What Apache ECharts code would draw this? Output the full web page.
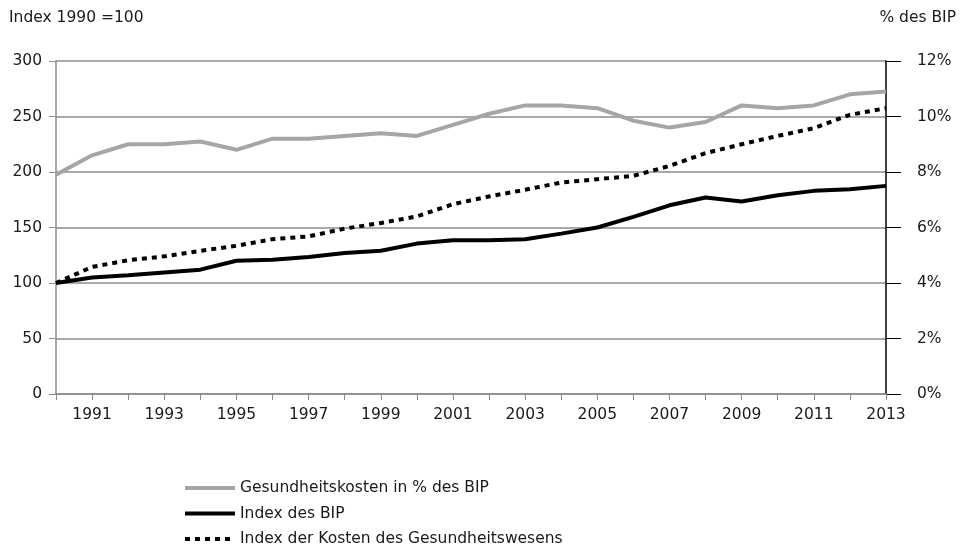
<!DOCTYPE html>
<html>
<head>
<meta charset="utf-8">
<script src="https://cdn.jsdelivr.net/npm/echarts@6/dist/echarts.min.js"></script>
<style>
  html, body { margin: 0; padding: 0; background: #fff; }
  #chart { width: 964px; height: 554px; }
</style>
</head>
<body>
<div id="chart"></div>
<script>
var years = ['1990', '1991', '1992', '1993', '1994', '1995', '1996', '1997', '1998', '1999', '2000', '2001',
  '2002', '2003', '2004', '2005', '2006', '2007', '2008', '2009', '2010', '2011', '2012', '2013'];

// Gesundheitskosten in % des BIP (rechte Achse)
var kostenProzent = [7.9, 8.6, 9.0, 9.0, 9.1, 8.8, 9.2, 9.2, 9.3, 9.4, 9.3, 9.7,
  10.1, 10.4, 10.4, 10.3, 9.85, 9.6, 9.8, 10.4, 10.3, 10.4, 10.8, 10.9];

// Index des BIP (1990 = 100)
var indexBip = [100, 105, 107, 109.5, 112, 120, 121, 123.5, 127, 129, 135.5, 138.5,
  138.5, 139.5, 144.5, 150, 159.5, 170, 177, 173.5, 179, 183, 184.5, 187.5];

// Index der Kosten des Gesundheitswesens (1990 = 100)
var indexKosten = [100, 114.5, 120.5, 124, 129, 133.5, 139.5, 142, 149, 154, 160, 171,
  178, 184, 190.5, 193.5, 196.5, 205.5, 217, 225, 232.5, 239.5, 251.5, 257.5];

var font = 'DejaVu Sans';
var fs = 15.5;
var txt = '#1a1a1a';

var chart = echarts.init(document.getElementById('chart'));

var option = {
  animation: false,
  backgroundColor: '#fff',
  textStyle: { fontFamily: font, color: txt },
  title: [
    { text: 'Index 1990 =100', left: 9, top: 10, padding: 0, textStyle: { fontFamily: font, fontSize: fs, fontWeight: 'normal', color: txt } },
    { text: '% des BIP', right: 8, top: 10, padding: 0, textStyle: { fontFamily: font, fontSize: fs, fontWeight: 'normal', color: txt } }
  ],
  grid: {
    left: 56,
    right: 78,
    top: 61,
    bottom: 160
  },
  legend: {
    orient: 'vertical',
    left: 183,
    top: 480,
    padding: 0,
    itemWidth: 50,
    itemHeight: 16,
    itemGap: 9.5,
    itemStyle: { opacity: 0 },
    lineStyle: { width: 4 },
    textStyle: { fontFamily: font, fontSize: fs, color: txt },
    data: ['Gesundheitskosten in % des BIP', 'Index des BIP', 'Index der Kosten des Gesundheitswesens']
  },
  xAxis: {
    type: 'category',
    data: years,
    boundaryGap: false,
    axisLine: { lineStyle: { color: '#8c8c8c', width: 1.5 } },
    axisTick: { show: true, interval: 0, length: 6, lineStyle: { color: '#8c8c8c' } },
    axisLabel: {
      interval: function (idx) { return idx % 2 === 1; },
      fontFamily: font,
      fontSize: fs,
      color: txt,
      margin: 13
    },
    splitLine: { show: false }
  },
  yAxis: [
    {
      type: 'value',
      min: 0,
      max: 300,
      interval: 50,
      axisLine: { show: true, lineStyle: { color: '#8c8c8c', width: 1.5 } },
      axisTick: { show: true, length: 7, lineStyle: { color: '#8c8c8c' } },
      axisLabel: { fontFamily: font, fontSize: fs, color: txt, margin: 14 },
      splitLine: { show: true, lineStyle: { color: '#8c8c8c', width: 1.5 } }
    },
    {
      type: 'value',
      min: 0,
      max: 12,
      interval: 2,
      position: 'right',
      axisLine: { show: true, lineStyle: { color: '#000', width: 1.5 } },
      axisTick: { show: true, length: 15, lineStyle: { color: '#000' } },
      axisLabel: { fontFamily: font, fontSize: fs, color: txt, margin: 31, formatter: '{value}%' },
      splitLine: { show: false }
    }
  ],
  series: [
    {
      name: 'Gesundheitskosten in % des BIP',
      type: 'line',
      yAxisIndex: 1,
      data: kostenProzent,
      symbol: 'none',
      color: '#a6a6a6',
      lineStyle: { color: '#a6a6a6', width: 4 },
      z: 3
    },
    {
      name: 'Index des BIP',
      type: 'line',
      yAxisIndex: 0,
      data: indexBip,
      symbol: 'none',
      color: '#000',
      lineStyle: { color: '#000', width: 4 },
      z: 4
    },
    {
      name: 'Index der Kosten des Gesundheitswesens',
      type: 'line',
      yAxisIndex: 0,
      data: indexKosten,
      symbol: 'none',
      color: '#000',
      lineStyle: { color: '#000', width: 4, type: [5, 5] },
      z: 4
    }
  ]
};

chart.setOption(option);
</script>
</body>
</html>
